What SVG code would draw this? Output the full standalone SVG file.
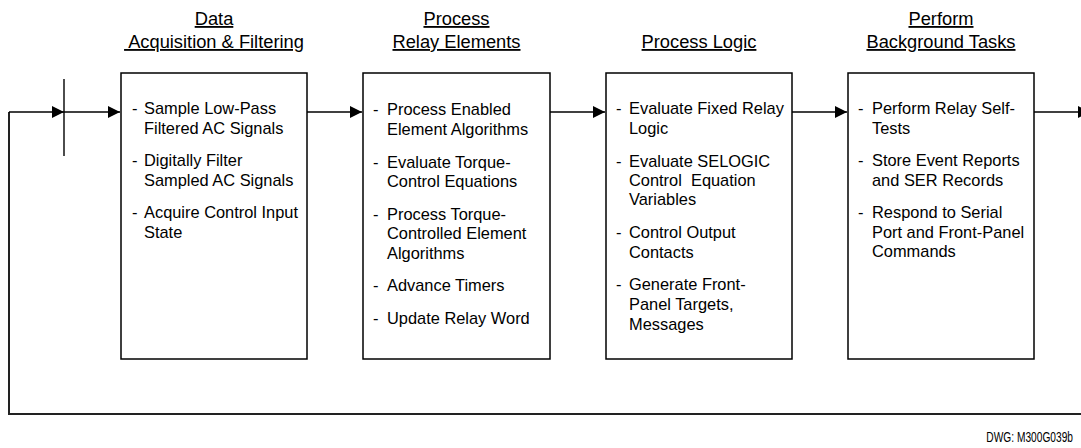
<svg xmlns="http://www.w3.org/2000/svg" width="1081" height="448" viewBox="0 0 1081 448">
<style>
.box{fill:#fff;stroke:#000;stroke-width:1.5}
.t{font-family:"Liberation Sans",Arial,sans-serif;font-size:16.4px;fill:#000}
.h{font-family:"Liberation Sans",Arial,sans-serif;font-size:18.3px;fill:#000;text-anchor:middle;text-decoration:underline}
.c{fill:none;stroke:#000;stroke-width:1.4}
.fb{fill:none;stroke:#222;stroke-width:2}
</style>
<defs>
<marker id="ah" markerUnits="userSpaceOnUse" markerWidth="13" markerHeight="13" refX="12" refY="6" orient="auto">
<path d="M0,0 L12,6 L0,12 z" fill="#000"/>
</marker>
</defs>
<rect width="1081" height="448" fill="#fff"/>
<g id="connectors">
<polyline class="fb" points="1081,414 9,414 9,112"/>
<line class="c" x1="9" y1="112" x2="64" y2="112" marker-end="url(#ah)"/>
<line class="c" x1="64" y1="79" x2="64" y2="156"/>
<line class="c" x1="64" y1="112" x2="120" y2="112" marker-end="url(#ah)"/>
<line class="c" x1="307" y1="112" x2="362" y2="112" marker-end="url(#ah)"/>
<line class="c" x1="550" y1="112" x2="605" y2="112" marker-end="url(#ah)"/>
<line class="c" x1="792" y1="112" x2="847" y2="112" marker-end="url(#ah)"/>
<line class="c" x1="1034" y1="112" x2="1090" y2="112" marker-end="url(#ah)"/>
</g>
<g id="node1">
<text class="h" x="214" y="25">Data</text>
<text class="h" x="214" y="48" xml:space="preserve"> Acquisition &amp; Filtering</text>
<rect class="box" x="121" y="73" width="186" height="286"/>
<text class="t" x="132" y="114">-</text>
<text class="t" x="144" y="114">Sample Low-Pass</text>
<text class="t" x="144" y="133.5">Filtered AC Signals</text>
<text class="t" x="132" y="166">-</text>
<text class="t" x="144" y="166">Digitally Filter</text>
<text class="t" x="144" y="185.5">Sampled AC Signals</text>
<text class="t" x="132" y="218">-</text>
<text class="t" x="144" y="218">Acquire Control Input</text>
<text class="t" x="144" y="237.5">State</text>
</g>
<g id="node2">
<text class="h" x="456.5" y="25">Process</text>
<text class="h" x="456.5" y="48">Relay Elements</text>
<rect class="box" x="363" y="73" width="187" height="286"/>
<text class="t" x="373" y="115">-</text>
<text class="t" x="387" y="115">Process Enabled</text>
<text class="t" x="387" y="134.5">Element Algorithms</text>
<text class="t" x="373" y="167.5">-</text>
<text class="t" x="387" y="167.5">Evaluate Torque-</text>
<text class="t" x="387" y="187">Control Equations</text>
<text class="t" x="373" y="219.5">-</text>
<text class="t" x="387" y="219.5">Process Torque-</text>
<text class="t" x="387" y="239">Controlled Element</text>
<text class="t" x="387" y="258.5">Algorithms</text>
<text class="t" x="373" y="291">-</text>
<text class="t" x="387" y="291">Advance Timers</text>
<text class="t" x="373" y="324">-</text>
<text class="t" x="387" y="324">Update Relay Word</text>
</g>
<g id="node3">
<text class="h" x="699" y="48">Process Logic</text>
<rect class="box" x="606" y="73" width="186" height="286"/>
<text class="t" x="616" y="114">-</text>
<text class="t" x="629" y="114">Evaluate Fixed Relay</text>
<text class="t" x="629" y="133.5">Logic</text>
<text class="t" x="616" y="167">-</text>
<text class="t" x="629" y="167">Evaluate SELOGIC</text>
<text class="t" x="629" y="186" xml:space="preserve">Control  Equation</text>
<text class="t" x="629" y="205">Variables</text>
<text class="t" x="616" y="238">-</text>
<text class="t" x="629" y="238">Control Output</text>
<text class="t" x="629" y="257.5">Contacts</text>
<text class="t" x="616" y="290">-</text>
<text class="t" x="629" y="290">Generate Front-</text>
<text class="t" x="629" y="310">Panel Targets,</text>
<text class="t" x="629" y="330">Messages</text>
</g>
<g id="node4">
<text class="h" x="941" y="25">Perform</text>
<text class="h" x="941" y="48">Background Tasks</text>
<rect class="box" x="848" y="73" width="186" height="286"/>
<text class="t" x="858" y="114">-</text>
<text class="t" x="872" y="114">Perform Relay Self-</text>
<text class="t" x="872" y="133.5">Tests</text>
<text class="t" x="858" y="166">-</text>
<text class="t" x="872" y="166">Store Event Reports</text>
<text class="t" x="872" y="185.5">and SER Records</text>
<text class="t" x="858" y="218">-</text>
<text class="t" x="872" y="218">Respond to Serial</text>
<text class="t" x="872" y="237.5">Port and Front-Panel</text>
<text class="t" x="872" y="257">Commands</text>
</g>
<text transform="translate(1073,442) scale(0.68,1)" x="0" y="0" font-family="'Liberation Sans',Arial,sans-serif" font-size="15" text-anchor="end" fill="#000">DWG: M300G039b</text>
</svg>
